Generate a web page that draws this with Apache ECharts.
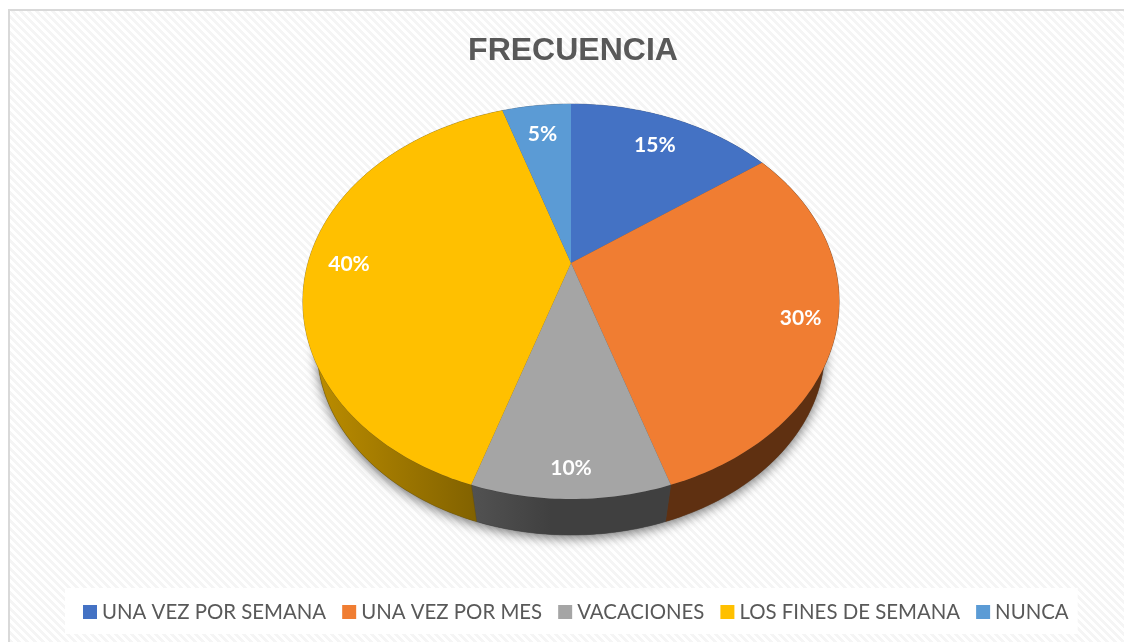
<!DOCTYPE html>
<html>
<head>
<meta charset="utf-8">
<style>html,body{margin:0;padding:0;background:#fff}#main{width:1124px;height:642px}</style>
<script src="https://cdn.jsdelivr.net/npm/echarts@6/dist/echarts.min.js"></script>
</head>
<body>
<div id="main"></div>
<script>
var categories = ['UNA VEZ POR SEMANA', 'UNA VEZ POR MES', 'VACACIONES', 'LOS FINES DE SEMANA', 'NUNCA'];
var values = [15, 30, 10, 40, 5];

var colors = ['#4472c4', '#f07d32', '#a5a5a5', '#ffc000', '#5b9bd5'];
// wall shading, left to right
var wallLeft = ['#2a4679', '#5f3011', '#525252', '#c09000', '#375d81'];
var wallRight = ['#2a4679', '#5f3011', '#404040', '#775a00', '#375d81'];
var labelRadius = [0.8, 0.87, 0.89, 0.844, 0.8];

// the tilted disc: a circle seen in perspective
var cx = 571, cy = 263, a = 263, b = 190, k = 0.195;
var lowCy = 311.5, lowScale = 0.947;

var total = values.reduce(function (s, v) { return s + v; }, 0);

function upperPoint(t, r) {
  var u = r * Math.sin(t), v = r * Math.cos(t), d = 1 + k * v;
  return [cx + a * u / d, cy - b * v / d];
}
function lowerPoint(t) {
  var u = Math.sin(t), v = Math.cos(t), d = 1 + k * v;
  return [cx + lowScale * a * u / d, lowCy - lowScale * b * v / d];
}
function rim(fn, t0, t1) {
  var pts = [], n = Math.max(2, Math.ceil((t1 - t0) * 60));
  for (var i = 0; i <= n; i++) pts.push(fn(t0 + (t1 - t0) * i / n));
  return pts;
}

function sliceRender(i) {
  return function (params, api) {
    var before = 0;
    for (var j = 0; j < i; j++) before += values[j];
    var t0 = before / total * 2 * Math.PI;
    var t1 = (before + api.value(0)) / total * 2 * Math.PI;
    var mid = (t0 + t1) / 2;
    var upper = rim(function (t) { return upperPoint(t, 1); }, t0, t1);
    var lower = rim(lowerPoint, t0, t1);
    var xs = upper.concat(lower).map(function (p) { return p[0]; });
    var wallFill = new echarts.graphic.LinearGradient(
      Math.min.apply(null, xs), 0, Math.min.apply(null, xs) + (Math.max.apply(null, xs) - Math.min.apply(null, xs)) * (i === 2 ? 0.4 : 1), 0,
      [{ offset: 0, color: wallLeft[i] }, { offset: 1, color: wallRight[i] }], true);
    var labelPos = upperPoint(mid, labelRadius[i]);
    var children = [
      { type: 'polygon', z2: 2, shape: { points: upper.concat(lower.slice().reverse()) }, style: { fill: wallFill, stroke: wallRight[i], lineWidth: 0.5 } },
      { type: 'polygon', z2: 5, shape: { points: [[cx, cy]].concat(upper) }, style: { fill: api.visual('color') } },
      { type: 'text', z2: 10, style: {
        x: labelPos[0], y: labelPos[1] + 1,
        text: api.value(0) + '%', align: 'center', verticalAlign: 'middle',
        fill: '#ffffff', font: 'bold 21px Lato' } }
    ];
    if (i === 0) {
      // soft shadow under the whole disc
      children.push({ type: 'polygon', z2: 0, shape: { points: rim(lowerPoint, 0, 2 * Math.PI) },
        style: { fill: '#555555', shadowBlur: 12, shadowColor: 'rgba(0,0,0,0.55)', shadowOffsetY: 3 } });
    }
    return { type: 'group', children: children };
  };
}

// light diagonal hatch behind the chart
var tile = document.createElement('canvas');
tile.width = 8; tile.height = 8;
var g = tile.getContext('2d');
g.fillStyle = '#ffffff'; g.fillRect(0, 0, 8, 8);
g.fillStyle = '#f5f5f5';
for (var py = 0; py < 8; py++) {
  for (var px = 0; px < 8; px++) {
    if (((px - py + 16) % 8) < 4) g.fillRect(px, py, 1, 1);
  }
}

var myChart = echarts.init(document.getElementById('main'));
var option = {
  animation: false,
  backgroundColor: '#ffffff',
  color: colors,
  graphic: [
    { type: 'rect', z: -10, shape: { x: 9, y: 10, width: 1130, height: 650 },
      style: { fill: { image: tile, repeat: 'repeat' }, stroke: '#d9d9d9', lineWidth: 2 } }
  ],
  title: {
    text: 'FRECUENCIA',
    left: 568, top: 30, textAlign: 'center',
    textStyle: { fontFamily: 'Liberation Sans', fontWeight: 'bold', fontSize: 32, color: '#595959' }
  },
  legend: {
    data: categories,
    left: 65, top: 588,
    backgroundColor: '#ffffff',
    padding: [14, 9, 12, 18],
    itemGap: 16,
    itemWidth: 14, itemHeight: 14,
    icon: 'rect',
    textStyle: { fontFamily: 'Lato', fontSize: 20.4, color: '#595959', lineHeight: 20 }
  },
  series: categories.map(function (name, i) {
    return {
      name: name,
      type: 'custom',
      coordinateSystem: 'none',
      renderItem: sliceRender(i),
      data: [[values[i]]],
      silent: true
    };
  })
};
myChart.setOption(option);
window.addEventListener('resize', function () { myChart.resize(); });
</script>
</body>
</html>
